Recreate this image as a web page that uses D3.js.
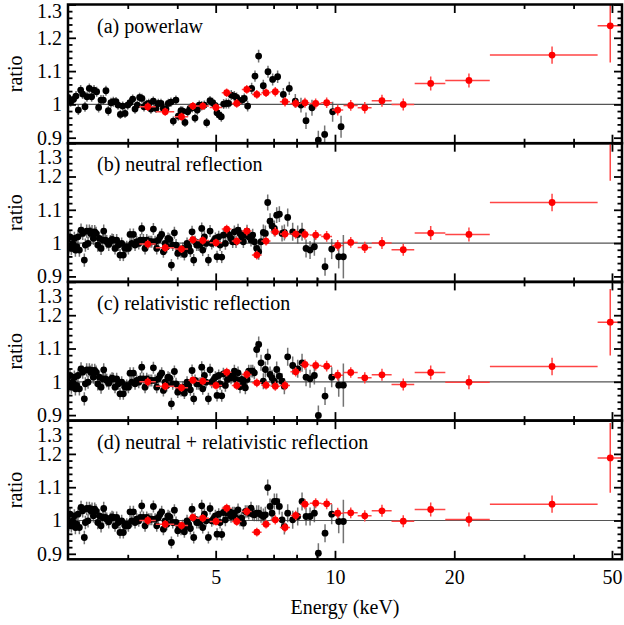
<!DOCTYPE html>
<meta charset="utf-8">
<head>
  <script src="https://d3js.org/d3.v7.min.js"></script>
  <style>
    body { margin: 0; background: #fff; }
    svg text { font-family: "Liberation Serif", "DejaVu Serif", serif; }
  </style>
</head>
<body>
<div id="chart"></div>
<script>

// panel titles
var titles = ["(a) powerlaw", "(b) neutral reflection", "(c) relativistic reflection",
              "(d) neutral + relativistic reflection"];

// black data, panel (a) : energy (keV), ratio, error
var xmmEa = [2.120,2.153,2.187,2.221,2.251,2.282,2.308,2.340,2.367,2.400,
  2.432,2.466,2.504,2.533,2.568,2.603,2.643,2.680,2.721,2.759,
  2.802,2.835,2.874,2.913,2.953,2.999,3.039,3.087,3.129,3.171,
  3.214,3.258,3.297,3.342,3.388,3.433,3.480,3.535,3.583,3.639,
  3.689,3.746,3.797,3.856,3.909,3.969,4.024,4.087,4.128,4.183,
  4.249,4.307,4.365,4.434,4.494,4.547,4.609,4.681,4.745,4.838,
  4.913,4.980,5.038,5.107,5.166,5.237,5.318,5.391,5.475,5.572,
  5.648,5.736,5.826,5.905,6.021,6.163,6.283,6.417,6.594,6.776,
  6.962,7.167,7.407,7.669,7.942,8.208,8.451,8.750,9.078,9.419,
  9.865,10.36];
var ratioA = [1.021,1.008,1.015,1.025,0.983,1.043,1.031,0.993,1.023,1.048,
  1.023,1.043,1.038,0.991,1.013,1.013,1.041,0.981,1.005,1.008,
  1.008,0.998,0.970,0.995,0.973,0.998,1.005,1.016,0.986,0.998,
  1.021,1.018,0.993,1.000,1.003,0.986,1.010,0.988,1.003,1.003,
  0.988,0.986,1.003,1.007,0.950,1.013,0.965,0.981,0.980,0.946,
  0.978,0.988,0.990,0.959,0.983,0.998,0.996,0.998,0.945,1.011,
  1.005,0.997,0.975,0.968,0.963,1.001,1.003,1.003,1.028,1.025,
  1.021,1.010,1.013,1.018,0.995,1.048,1.085,1.145,1.056,1.098,
  1.075,1.083,1.030,1.048,1.010,0.998,0.951,0.990,0.893,0.910,
  0.978,0.933];
var errA = [0.015,0.015,0.015,0.015,0.015,0.015,0.015,0.015,0.015,0.015,
  0.015,0.015,0.015,0.015,0.015,0.015,0.015,0.015,0.015,0.015,
  0.014,0.014,0.014,0.014,0.014,0.014,0.014,0.014,0.014,0.014,
  0.014,0.014,0.014,0.014,0.014,0.014,0.014,0.014,0.014,0.014,
  0.014,0.014,0.014,0.014,0.014,0.014,0.014,0.014,0.014,0.014,
  0.014,0.014,0.014,0.014,0.014,0.014,0.014,0.014,0.014,0.014,
  0.015,0.015,0.015,0.015,0.015,0.015,0.015,0.015,0.015,0.015,
  0.015,0.015,0.015,0.015,0.016,0.017,0.017,0.019,0.018,0.018,
  0.018,0.019,0.019,0.020,0.021,0.022,0.025,0.024,0.028,0.027,
  0.030,0.033];

// black data, panels (b)-(d) : same energy bins
var xmmE = [2.108,2.129,2.145,2.162,2.179,2.200,2.213,2.230,2.247,2.265,
  2.287,2.309,2.331,2.345,2.363,2.382,2.400,2.419,2.438,2.457,
  2.476,2.495,2.520,2.544,2.569,2.594,2.609,2.634,2.655,2.686,
  2.712,2.738,2.759,2.786,2.813,2.841,2.868,2.896,2.924,2.953,
  2.982,3.011,3.040,3.070,3.100,3.130,3.161,3.198,3.229,3.254,
  3.285,3.317,3.350,3.382,3.415,3.448,3.482,3.516,3.550,3.584,
  3.619,3.654,3.690,3.726,3.763,3.792,3.829,3.866,3.896,3.934,
  3.972,4.011,4.050,4.089,4.129,4.169,4.193,4.234,4.275,4.317,
  4.359,4.401,4.435,4.478,4.523,4.567,4.611,4.638,4.683,4.729,
  4.793,4.840,4.887,4.934,4.992,5.040,5.089,5.129,5.179,5.229,
  5.290,5.352,5.415,5.467,5.520,5.574,5.628,5.694,5.760,5.816,
  5.873,5.941,5.999,6.058,6.140,6.200,6.260,6.345,6.420,6.508,
  6.596,6.674,6.765,6.858,6.938,7.032,7.128,7.239,7.353,7.452,
  7.598,7.822,8.053,8.259,8.453,8.652,8.872,9.080,9.439,9.812,
  10.22,10.50];
// below ~5.25 keV the residuals look the same in (b), (c), (d)
var ratioLow = [1.009,0.989,1.019,0.984,0.999,1.014,0.979,0.989,1.019,0.979,
  1.039,1.029,0.949,0.994,1.036,0.999,1.036,1.029,1.034,1.014,
  1.034,1.029,0.994,1.014,0.984,1.009,1.036,1.009,1.004,0.996,
  1.006,1.011,1.009,0.984,1.009,0.994,0.964,0.999,0.964,0.984,
  0.989,0.984,1.026,0.999,1.026,0.994,1.004,0.999,1.009,1.044,
  1.009,0.984,1.009,1.004,1.004,1.004,1.042,1.004,0.984,1.009,
  1.019,1.026,0.974,0.999,0.989,1.014,1.011,0.934,0.994,1.031,
  0.994,0.969,0.979,0.974,0.984,0.966,0.981,0.999,0.989,0.976,
  1.034,0.949,1.004,0.994,0.994,0.996,1.044,0.979,1.019,0.999,
  0.949,1.036,0.999,1.004,1.014,0.959,1.019,0.994,0.958,1.024];
var ratioHighB = [0.999,1.029,1.024,1.014,1.004,1.034,1.004,1.039,1.029,1.019,
  1.004,1.024,1.036,1.019,1.009,1.024,1.004,0.984,0.974,1.004,
  1.032,1.029,1.122,1.066,1.052,1.044,1.084,1.087,1.029,1.032,
  1.077,1.034,1.026,1.034,0.984,0.979,0.989,0.865,0.929,0.982,
  0.959,0.959];
var ratioHighC = [0.989,1.007,1.017,1.012,1.020,1.032,1.007,1.027,0.985,1.007,
  0.992,0.982,1.007,1.032,1.032,1.032,1.027,1.097,1.112,1.057,
  1.002,1.037,1.075,1.022,1.012,1.002,1.037,1.017,1.002,0.987,
  1.075,1.049,1.039,1.057,1.014,1.009,1.019,0.899,0.957,1.014,
  0.990,0.990];
var ratioHighD = [1.002,1.022,1.027,1.012,1.022,1.022,1.007,1.032,1.002,1.007,
  0.992,1.027,1.027,1.022,1.037,1.019,1.017,1.022,1.022,1.017,
  1.012,1.017,1.099,1.042,1.022,1.057,1.057,1.042,1.002,0.982,
  1.022,1.002,1.012,1.057,1.012,1.012,1.022,0.902,0.962,1.019,
  0.997,0.997];
var errBCD = [0.020,0.020,0.020,0.020,0.020,0.020,0.020,0.020,0.020,0.020,
  0.020,0.020,0.020,0.020,0.020,0.020,0.020,0.020,0.020,0.020,
  0.020,0.020,0.020,0.020,0.020,0.020,0.020,0.020,0.020,0.020,
  0.018,0.018,0.018,0.018,0.018,0.018,0.018,0.018,0.018,0.018,
  0.018,0.018,0.018,0.018,0.018,0.018,0.018,0.018,0.018,0.018,
  0.018,0.018,0.018,0.018,0.018,0.018,0.018,0.018,0.018,0.018,
  0.018,0.018,0.018,0.018,0.018,0.018,0.018,0.018,0.018,0.018,
  0.018,0.018,0.018,0.018,0.018,0.018,0.018,0.018,0.018,0.018,
  0.018,0.018,0.018,0.018,0.018,0.018,0.018,0.018,0.018,0.018,
  0.018,0.018,0.018,0.018,0.018,0.018,0.018,0.018,0.018,0.018,
  0.019,0.019,0.019,0.019,0.019,0.019,0.019,0.019,0.019,0.019,
  0.019,0.019,0.019,0.019,0.019,0.019,0.019,0.024,0.024,0.024,
  0.024,0.024,0.024,0.024,0.024,0.024,0.024,0.024,0.024,0.024,
  0.027,0.027,0.027,0.027,0.027,0.027,0.027,0.030,0.027,0.030,
  0.035,0.065];

// red data : bin centre, half width (keV), ratio per panel, error
var nuE  = [3.37,3.73,4.10,4.38,4.64,5.01,5.33,5.65,5.99,6.35,6.70,7.07,7.48,
            7.96,8.40,8.94,9.53,10.16,10.96,11.89,13.14,14.87,17.44,21.78,35.3,49.5];
var nuDE = [0.16,0.20,0.16,0.11,0.17,0.18,0.15,0.16,0.17,0.18,0.18,0.19,0.22,
            0.24,0.22,0.30,0.30,0.33,0.45,0.48,0.76,0.98,1.55,2.80,10.7,3.5];
var nuRatioA = [0.993,0.978,0.963,0.995,0.995,0.991,1.035,1.003,1.045,1.030,1.035,1.038,1.008,
                1.003,1.005,1.003,1.005,0.983,0.997,0.990,1.011,1.000,1.063,1.072,1.148,1.236];
var nuRatioB = [0.997,0.986,0.982,1.010,1.008,1.001,1.042,1.006,1.036,0.964,1.006,1.034,1.027,
                1.027,1.026,1.024,1.020,0.993,1.002,0.987,1.000,0.980,1.030,1.026,1.122,1.320];
var nuRatioC = [1.000,0.987,0.982,1.005,1.002,0.989,1.029,0.989,1.022,0.997,0.990,0.987,0.989,
                1.030,1.052,1.049,1.047,1.020,1.028,1.012,1.021,0.992,1.028,0.999,1.046,1.179];
var nuRatioD = [1.000,0.989,0.985,1.009,1.007,0.997,1.037,0.997,1.027,0.965,0.989,1.002,0.979,
                1.015,1.049,1.052,1.050,1.022,1.023,1.014,1.029,0.998,1.033,1.003,1.049,1.188];
var nuErr = [0.013,0.012,0.012,0.012,0.012,0.012,0.013,0.013,0.013,0.013,0.013,0.014,0.014,
             0.014,0.015,0.015,0.016,0.016,0.016,0.017,0.018,0.018,0.021,0.021,0.026,0.110];
// error of the last (highest energy) bin in each panel
var nuErrTop = [0.110, 0.133, 0.100, 0.105];

var xMajor = [5, 10, 20, 50];
var xMinor = [3, 4, 6, 7, 8, 9, 30, 40];

// layout
var margin = {top: 4.5, left: 68},
    width = 554,
    panelH = 138.7;

var svg = d3.select("#chart")
  .append("svg")
    .attr("width", 624)
    .attr("height", 625);

var x = d3.scaleLog().domain([2.12, 53]).range([0, width]);
var y = d3.scaleLinear().domain([0.8835, 1.3]).range([panelH, 0]);

var yAll = y.ticks(20);
var isMajor = function(v) { return Math.abs(v * 10 - Math.round(v * 10)) < 1e-6; };
var yMajor = yAll.filter(isMajor);
var yMinor = yAll.filter(function(v) { return !isMajor(v); });

var panels = [
  {title: titles[0], bE: xmmEa, bR: ratioA, bErr: errA, nR: nuRatioA},
  {title: titles[1], bE: xmmE, bR: ratioLow.concat(ratioHighB), bErr: errBCD, nR: nuRatioB},
  {title: titles[2], bE: xmmE, bR: ratioLow.concat(ratioHighC), bErr: errBCD, nR: nuRatioC},
  {title: titles[3], bE: xmmE, bR: ratioLow.concat(ratioHighD), bErr: errBCD, nR: nuRatioD}
];

function styleAxis(a) {
  a.select(".domain").remove();
  a.selectAll("line").attr("stroke", "#000").attr("stroke-width", 1.8);
  a.selectAll("text").attr("font-size", 20).attr("fill", "#000")
    .style("font-family", "'Liberation Serif', serif");
}

panels.forEach(function(p, i) {
  var g = svg.append("g")
    .attr("transform", "translate(" + margin.left + "," + (margin.top + i * panelH) + ")");

  g.append("clipPath").attr("id", "clip" + i)
    .append("rect").attr("width", width).attr("height", panelH);

  var plot = g.append("g").attr("clip-path", "url(#clip" + i + ")");

  // ratio = 1 line
  plot.append("line")
    .attr("x1", 0).attr("x2", width)
    .attr("y1", y(1)).attr("y2", y(1))
    .attr("stroke", "#555").attr("stroke-width", 1.2);

  var black = p.bE.map(function(e, j) { return {e: e, r: p.bR[j], err: p.bErr[j]}; });
  var red = nuE.map(function(e, j) {
    return {e: e, de: nuDE[j], r: p.nR[j], err: j === nuE.length - 1 ? nuErrTop[i] : nuErr[j]};
  });

  plot.selectAll(".berr").data(black).enter().append("line")
    .attr("x1", function(d) { return x(d.e); })
    .attr("x2", function(d) { return x(d.e); })
    .attr("y1", function(d) { return y(d.r - d.err); })
    .attr("y2", function(d) { return y(d.r + d.err); })
    .attr("stroke", "#444").attr("stroke-opacity", 0.75).attr("stroke-width", 1.5);

  plot.selectAll(".bpt").data(black).enter().append("circle")
    .attr("cx", function(d) { return x(d.e); })
    .attr("cy", function(d) { return y(d.r); })
    .attr("r", 3.4)
    .attr("fill", "#000");

  plot.selectAll(".rerrx").data(red).enter().append("line")
    .attr("x1", function(d) { return x(d.e - d.de); })
    .attr("x2", function(d) { return x(d.e + d.de); })
    .attr("y1", function(d) { return y(d.r); })
    .attr("y2", function(d) { return y(d.r); })
    .attr("stroke", "#ff4545").attr("stroke-width", 1.5);

  plot.selectAll(".rerry").data(red).enter().append("line")
    .attr("x1", function(d) { return x(d.e); })
    .attr("x2", function(d) { return x(d.e); })
    .attr("y1", function(d) { return y(d.r - d.err); })
    .attr("y2", function(d) { return y(d.r + d.err); })
    .attr("stroke", "#ff4545").attr("stroke-width", 1.5);

  plot.selectAll(".rpt").data(red).enter().append("circle")
    .attr("cx", function(d) { return x(d.e); })
    .attr("cy", function(d) { return y(d.r); })
    .attr("r", 3.4)
    .attr("fill", "#ff0000");

  // x ticks, bottom and top, pointing inwards
  var last = i === panels.length - 1;
  var xb = g.append("g").attr("transform", "translate(0," + panelH + ")")
    .call(d3.axisBottom(x).tickValues(xMajor).tickSize(-8.5).tickPadding(10.5)
      .tickFormat(last ? d3.format("d") : ""));
  styleAxis(xb);
  styleAxis(g.append("g").attr("transform", "translate(0," + panelH + ")")
    .call(d3.axisBottom(x).tickValues(xMinor).tickSize(-4.5).tickFormat("")));
  styleAxis(g.append("g")
    .call(d3.axisTop(x).tickValues(xMajor).tickSize(-8.5).tickFormat("")));
  styleAxis(g.append("g")
    .call(d3.axisTop(x).tickValues(xMinor).tickSize(-4.5).tickFormat("")));

  // y ticks, left and right
  var yl = g.append("g")
    .call(d3.axisLeft(y).tickValues(yMajor).tickSize(-8).tickPadding(6)
      .tickFormat(function(d) { return Math.abs(d - 1) < 1e-6 ? "1" : d3.format(".1f")(d); }));
  styleAxis(yl);
  // the top label sits below its tick so it clears the 0.9 of the panel above
  yl.selectAll(".tick").filter(function(d) { return Math.abs(d - 1.3) < 1e-6; })
    .select("text").attr("transform", "translate(0," + (i === 0 ? 6.3 : 14) + ")");
  styleAxis(g.append("g")
    .call(d3.axisLeft(y).tickValues(yMinor).tickSize(-4.5).tickFormat("")));
  styleAxis(g.append("g").attr("transform", "translate(" + width + ",0)")
    .call(d3.axisRight(y).tickValues(yMajor).tickSize(-8).tickFormat("")));
  styleAxis(g.append("g").attr("transform", "translate(" + width + ",0)")
    .call(d3.axisRight(y).tickValues(yMinor).tickSize(-4.5).tickFormat("")));

  // frame
  g.append("rect")
    .attr("width", width).attr("height", panelH)
    .attr("fill", "none").attr("stroke", "#000").attr("stroke-width", 2.5);

  // panel title
  g.append("text")
    .attr("x", 29).attr("y", 28)
    .attr("font-size", 20)
    .text(p.title);

  // y label
  svg.append("text")
    .attr("transform", "translate(22," + (margin.top + i * panelH + panelH / 2) + ")rotate(-90)")
    .attr("text-anchor", "middle")
    .attr("font-size", 20)
    .text("ratio");
});

// x label
svg.append("text")
  .attr("x", margin.left + width / 2)
  .attr("y", 613.5)
  .attr("text-anchor", "middle")
  .attr("font-size", 20)
  .text("Energy (keV)");

</script>
</body>
